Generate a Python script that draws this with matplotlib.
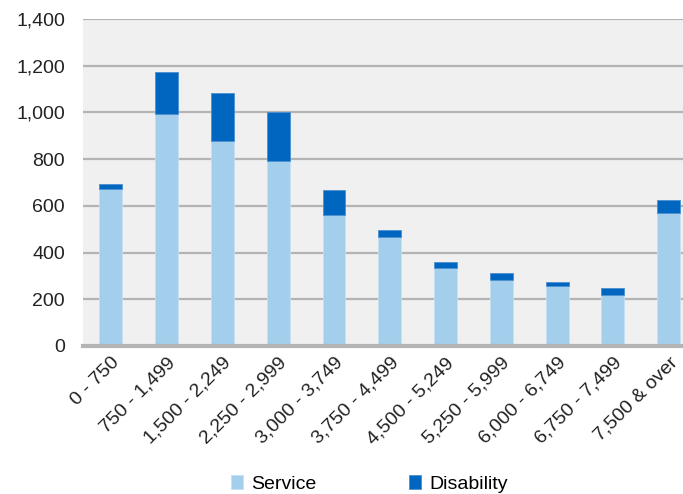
import matplotlib.pyplot as plt
import numpy as np

categories = ["0 - 750", "750 - 1,499", "1,500 - 2,249", "2,250 - 2,999",
              "3,000 - 3,749", "3,750 - 4,499", "4,500 - 5,249", "5,250 - 5,999",
              "6,000 - 6,749", "6,750 - 7,499", "7,500 & over"]
service = [672, 995, 877, 793, 562, 465, 333, 283, 256, 220, 571]
disability = [22, 180, 208, 210, 105, 33, 26, 28, 20, 28, 54]
yticks = [0, 200, 400, 600, 800, 1000, 1200, 1400]

plt.rcParams["font.family"] = ["Liberation Sans", "DejaVu Sans"]

fig = plt.figure(figsize=(6.83, 4.94), dpi=100)
ax = fig.add_axes([0.1215, 0.2996, 0.8984, 0.6619])
ax.set_facecolor("#f0f0f0")

x = np.arange(len(categories))
width = 0.41
b1 = ax.bar(x, service, width, color="#a3cfec", edgecolor="#c6e0f3",
            linewidth=0.6, label="Service", zorder=3)
b2 = ax.bar(x, disability, width, bottom=service, color="#0066c0",
            edgecolor="#4d8fd0", linewidth=0.6, label="Disability", zorder=3)

ax.set_xlim(-0.5, len(categories) - 0.5)
ax.set_ylim(0, 1400)
ax.set_yticks(yticks)
ax.set_yticklabels([f"{v:,}" for v in yticks], fontsize=14, color="#222222")
ax.yaxis.grid(True, color="#b4b4b4", linewidth=1.6, zorder=1)
ax.set_axisbelow(True)
ax.tick_params(axis="y", length=0, pad=13)
ax.tick_params(axis="x", length=0, pad=6)

ax.set_xticks(x)
ax.set_xticklabels(categories, rotation=45, ha="right",
                   rotation_mode="anchor", fontsize=14, color="#222222")

for side in ["top", "right", "left"]:
    ax.spines[side].set_visible(False)
ax.spines["bottom"].set_color("#b4b4b4")
ax.spines["bottom"].set_linewidth(3)
ax.spines["bottom"].set_zorder(4)

fig.legend(handles=[b1, b2], loc="center", bbox_to_anchor=(369 / 683, 1 - 484 / 494),
           ncol=2, frameon=False, fontsize=14, handlelength=0.65, handleheight=0.75,
           handletextpad=0.4, columnspacing=4.75)

fig.savefig("out.png", dpi=100)
